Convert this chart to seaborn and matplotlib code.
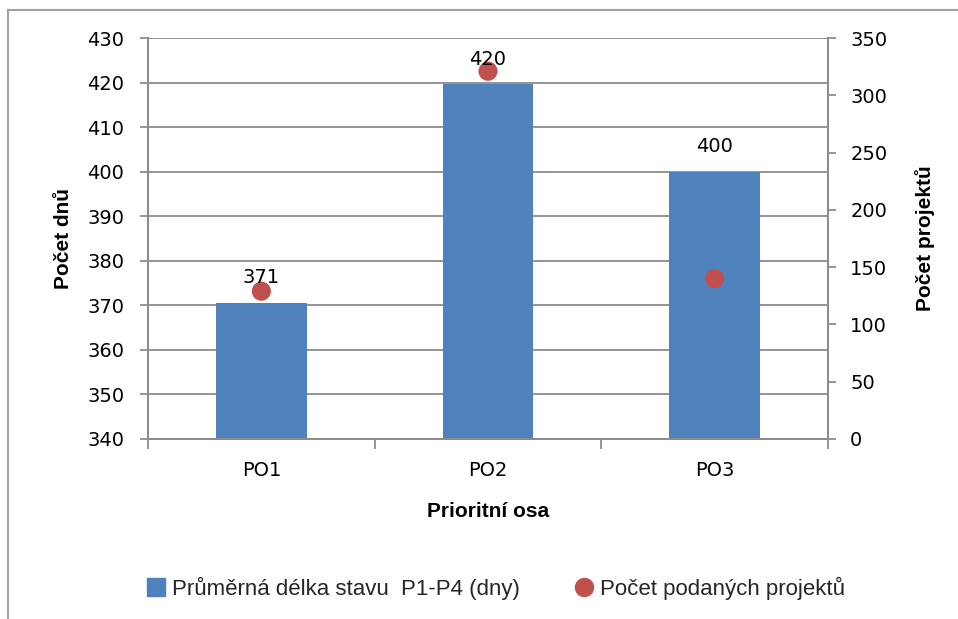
import matplotlib.pyplot as plt
import matplotlib.patches as mpatches
from matplotlib.lines import Line2D
import pandas as pd
import seaborn as sns

categories = ["PO1", "PO2", "PO3"]
avg_days = [370.6, 419.6, 400.0]
projects = [129, 321, 140]

bar_name = "Průměrná délka stavu  P1-P4 (dny)"
dot_name = "Počet podaných projektů"

df = pd.DataFrame({"osa": categories, "dny": avg_days, "projekty": projects})

sns.set_style("white")
plt.rcParams['font.family'] = ['DejaVu Sans']

bar_color = "#4F81BD"
dot_color = "#C0504D"
grid_color = "#8C8C8C"

fig = plt.figure(figsize=(9.58, 6.19), dpi=100)
ax = fig.add_axes([148/958, 1-439/619, 680/958, 401/619])

sns.barplot(data=df, x="osa", y="dny", color=bar_color, width=0.4,
            saturation=1, linewidth=0, ax=ax, zorder=2)
ax.set_ylim(340, 430)
ax.set_xlim(-0.5, 2.5)
ax.set_yticks(range(340, 431, 10))
ax.grid(axis="y", color=grid_color, lw=1.3, zorder=0)
ax.set_axisbelow(True)

ax2 = ax.twinx()
sns.scatterplot(data=df, x="osa", y="projekty", color=dot_color, s=190,
                edgecolor="none", ax=ax2, zorder=3)
ax2.set_ylim(0, 350)
ax2.set_yticks(range(0, 351, 50))
ax2.set_xlim(-0.5, 2.5)

# data labels above bars, drawn on top of dots
for i, v in enumerate(avg_days):
    ax2.annotate(f"{v:.0f}", xy=(i, v), xycoords=ax.transData,
                 xytext=(0, 11), textcoords="offset points",
                 ha="center", va="bottom", fontsize=14, color="black", zorder=5)

for a in (ax, ax2):
    for s in a.spines.values():
        s.set_color(grid_color)
        s.set_linewidth(1.3)
    a.spines["top"].set_visible(False)

ax.tick_params(axis="y", direction="out", length=6, width=1.3, color=grid_color,
               labelsize=14, labelcolor="black", pad=11, left=True)
ax2.tick_params(axis="y", direction="out", length=6, width=1.3, color=grid_color,
                labelsize=14, labelcolor="black", pad=10, right=True)
ax.set_xticks([-0.5, 0.5, 1.5, 2.5], minor=True)
ax.tick_params(axis="x", which="major", length=0, labelsize=14, labelcolor="black", pad=16)
ax.tick_params(axis="x", which="minor", direction="out", length=7, width=1.3,
               color=grid_color, bottom=True)

lab_font = dict(family=["Liberation Sans", "DejaVu Sans"], fontsize=15,
                fontweight="bold", color="black")
ax.set_xlabel("Prioritní osa", labelpad=16, **lab_font)
ax.set_ylabel("Počet dnů", labelpad=10, **lab_font)
ax2.set_ylabel("Počet projektů", labelpad=20, rotation=90, **lab_font)

handles = [
    Line2D([], [], marker="s", color=bar_color, lw=0, markersize=13),
    Line2D([], [], marker="o", color=dot_color, lw=0, markersize=13),
]
fig.legend(handles, [bar_name, dot_name], loc="center", bbox_to_anchor=(495/958, 1-588/619),
           ncol=2, frameon=False, handlelength=1.0, handletextpad=0.2, columnspacing=2.4,
           prop={"family": ["Liberation Sans", "DejaVu Sans"], "size": 16})

fig.patches.append(mpatches.Rectangle((8/958, -0.1), 1.2, 1-10/619+0.1,
                                      transform=fig.transFigure, fill=False,
                                      edgecolor="#A0A0A0", lw=1.5))

fig.savefig("out.png", dpi=100)
